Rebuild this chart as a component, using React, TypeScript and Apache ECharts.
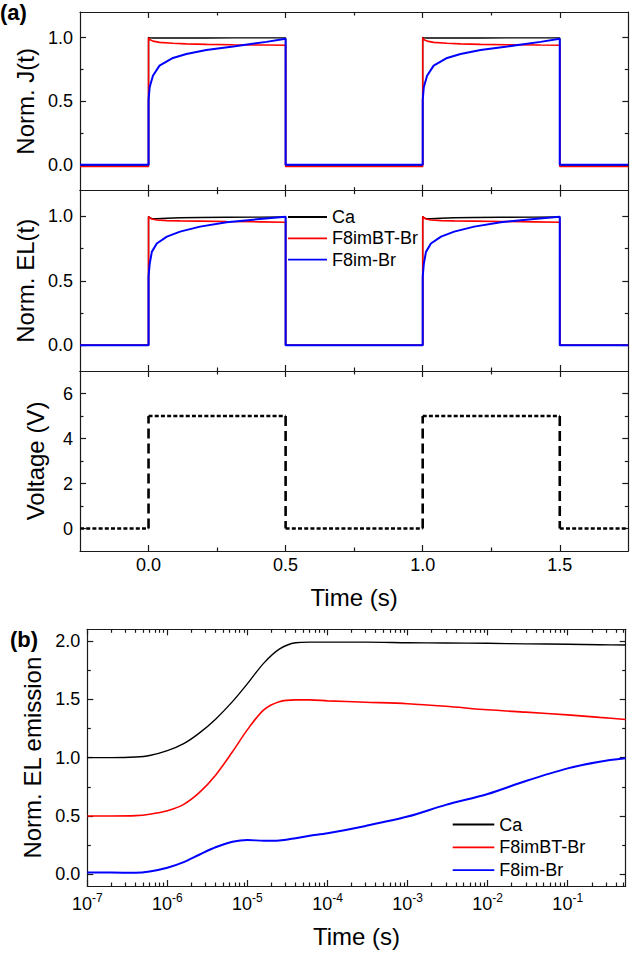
import { useEffect, useRef } from 'react';
import * as echarts from 'echarts';

const FONT = '"Liberation Sans", Arial, Helvetica, sans-serif';
const INK = '#000000';
const AXIS_INK = '#1a1a1a';

// ---------- shared series ----------
const seriesNames = ['Ca', 'F8imBT-Br', 'F8im-Br'];
const seriesColors = ['#000000', '#ff0000', '#0000ff'];
const seriesWidths = [1.4, 1.6, 2];

// ---------- panel (a) ----------
const timeRangeA = [-0.25, 1.75];
const pulseStarts = [0, 1.0];
const pulseWidth = 0.5;
const timeMajorTicksA = [0, 0.5, 1.0, 1.5];
const timeMinorTicksA = [0.25, 0.75, 1.25];
const normRange = [-0.2, 1.2];
const normMajorTicks = [0, 0.5, 1.0];
const normMinorTicks = [0.25, 0.75];
const voltRange = [-1, 7];
const voltMajorTicks = [0, 2, 4, 6];
const voltMinorTicks = [1, 3, 5];

// Norm. J(t) during a pulse (time measured from pulse start, s)
const jOnTime = [0, 0.004, 0.016, 0.04, 0.089, 0.138, 0.211, 0.309, 0.43, 0.5];
const jCa = [1.0, 0.997, 0.996, 0.996, 0.996, 0.996, 0.996, 0.997, 0.997, 0.997];
const jBT = [1.0, 0.985, 0.972, 0.962, 0.955, 0.95, 0.946, 0.943, 0.941, 0.94];
const jIm = [0.51, 0.61, 0.7, 0.78, 0.84, 0.871, 0.902, 0.93, 0.966, 0.99];
const jBaseline = [0, -0.01, 0.003];

// Norm. EL(t) during a pulse
const elOnTime = [0, 0.004, 0.012, 0.03, 0.067, 0.115, 0.188, 0.285, 0.406, 0.5];
const elCa = [1.0, 0.99, 0.983, 0.982, 0.986, 0.99, 0.992, 0.994, 0.995, 0.996];
const elBT = [1.0, 0.99, 0.98, 0.972, 0.968, 0.966, 0.964, 0.961, 0.958, 0.955];
const elIm = [0.53, 0.63, 0.725, 0.79, 0.843, 0.882, 0.921, 0.955, 0.98, 0.997];
const elBaseline = [0, 0, 0];

// Applied voltage
const voltTime = [-0.25, 0, 0, 0.5, 0.5, 1.0, 1.0, 1.5, 1.5, 1.75];
const voltValue = [0, 0, 5, 5, 0, 0, 5, 5, 0, 0];

// ---------- panel (b) ----------
const timeRangeB = [1e-7, 0.53];
const decadeTicksB = [1e-7, 1e-6, 1e-5, 1e-4, 1e-3, 1e-2, 1e-1];
const minorMultipliersB = [2, 3, 4, 5, 6, 7, 8, 9];
const emissionRange = [-0.1, 2.1];
const emissionMajorTicks = [0, 0.5, 1.0, 1.5, 2.0];
const emissionMinorTicks = [0.25, 0.75, 1.25, 1.75];

const bTime = [1e-7, 2e-7, 4e-7, 6e-7, 1e-6, 1.6e-6, 2.5e-6, 4e-6, 6.5e-6, 1e-5, 1.6e-5, 2.5e-5, 4e-5, 6e-5, 1e-4, 3e-4, 1e-3, 3e-3, 1e-2, 3e-2, 0.1, 0.25, 0.53];
const bCa = [1.0, 1.0, 1.005, 1.018, 1.06, 1.12, 1.21, 1.33, 1.48, 1.634, 1.81, 1.93, 1.985, 1.99, 1.99, 1.99, 1.985, 1.982, 1.98, 1.975, 1.972, 1.968, 1.965];
const bBT = [0.5, 0.5, 0.503, 0.515, 0.545, 0.6, 0.7, 0.85, 1.05, 1.24, 1.41, 1.48, 1.495, 1.495, 1.487, 1.475, 1.462, 1.44, 1.41, 1.39, 1.367, 1.345, 1.327];
const bIm = [0.015, 0.015, 0.014, 0.025, 0.057, 0.105, 0.168, 0.232, 0.279, 0.295, 0.287, 0.29, 0.31, 0.33, 0.352, 0.415, 0.495, 0.595, 0.688, 0.8, 0.908, 0.965, 0.994];

function pulseTrain(onT: number[], onV: number[], base: number): number[][] {
  const pts: number[][] = [[timeRangeA[0], base]];
  pulseStarts.forEach((s) => {
    pts.push([s, base]);
    onT.forEach((dt, i) => pts.push([s + dt, onV[i]]));
    pts.push([s + pulseWidth, base]);
  });
  pts.push([timeRangeA[1], base]);
  return pts;
}

function voltSegments(vertical: boolean): (number | string)[][] {
  const out: (number | string)[][] = [];
  for (let i = 0; i < voltTime.length - 1; i++) {
    const isVert = voltTime[i] === voltTime[i + 1];
    if (isVert !== vertical) continue;
    if (out.length) out.push([voltTime[i], '-']);
    out.push([voltTime[i], voltValue[i]]);
    out.push([voltTime[i + 1], voltValue[i + 1]]);
  }
  return out;
}

const axisLine = { color: AXIS_INK, width: 1.2 };
const labelStyle = { fontFamily: FONT, fontSize: 18, color: INK };
const nameStyle = { fontFamily: FONT, fontSize: 24, color: INK };

type Obj = Record<string, any>;
const xAxes: Obj[] = [];
const yAxes: Obj[] = [];

function makeAxis(gridIndex: number, position: string, type: string, range: number[], ticks: number[], len: number, showLine: boolean, extra: Obj = {}): Obj {
  return {
    type,
    gridIndex,
    position,
    min: range[0],
    max: range[1],
    axisLine: { show: showLine, onZero: false, lineStyle: axisLine },
    axisTick: { show: true, inside: true, length: len, customValues: ticks, lineStyle: axisLine },
    axisLabel: { show: false },
    splitLine: { show: false },
    minorTick: { show: false },
    ...extra,
  };
}

function frame(dim: 'x' | 'y', gridIndex: number, type: string, range: number[], major: number[], minor: number[], primaryExtra: Obj): number {
  const list = dim === 'x' ? xAxes : yAxes;
  const sides = dim === 'x' ? ['bottom', 'top'] : ['left', 'right'];
  const primary = list.length;
  sides.forEach((side, k) => {
    list.push(makeAxis(gridIndex, side, type, range, major, 6, true, k === 0 ? primaryExtra : {}));
    list.push(makeAxis(gridIndex, side, type, range, minor, 3.5, false));
  });
  return primary;
}

const oneDecimal = (v: number) => v.toFixed(1);

function buildOption(): Obj {
  xAxes.length = 0;
  yAxes.length = 0;

  const grids = [
    { left: 80, right: 1.7, top: 12, height: 178.7 },
    { left: 80, right: 1.7, top: 190.7, height: 180.3 },
    { left: 80, right: 1.7, top: 371, height: 180 },
    { left: 87.3, right: 4.3, top: 629.3, height: 256.7 },
  ];

  const yName = (name: string, gap: number) => ({
    name,
    nameLocation: 'middle',
    nameRotate: 90,
    nameGap: gap,
    nameTextStyle: nameStyle,
  });

  // panel (a) grids
  const x0 = frame('x', 0, 'value', timeRangeA, timeMajorTicksA, timeMinorTicksA, {});
  const y0 = frame('y', 0, 'value', normRange, normMajorTicks, normMinorTicks, {
    axisLabel: { show: true, customValues: normMajorTicks, margin: 7, formatter: oneDecimal, ...labelStyle },
    ...yName('Norm. J(t)', 32),
  });
  const x1 = frame('x', 1, 'value', timeRangeA, timeMajorTicksA, timeMinorTicksA, {});
  const y1 = frame('y', 1, 'value', normRange, normMajorTicks, normMinorTicks, {
    axisLabel: { show: true, customValues: normMajorTicks, margin: 7, formatter: oneDecimal, ...labelStyle },
    ...yName('Norm. EL(t)', 32),
  });
  const x2 = frame('x', 2, 'value', timeRangeA, timeMajorTicksA, timeMinorTicksA, {
    axisLabel: { show: true, customValues: timeMajorTicksA, margin: 5, formatter: oneDecimal, ...labelStyle },
    name: 'Time (s)',
    nameLocation: 'middle',
    nameGap: 34,
    nameTextStyle: nameStyle,
  });
  const y2 = frame('y', 2, 'value', voltRange, voltMajorTicks, voltMinorTicks, {
    axisLabel: { show: true, customValues: voltMajorTicks, margin: 7, formatter: (v: number) => String(v), ...labelStyle },
    ...yName('Voltage (V)', 33),
  });

  // panel (b)
  const minorB: number[] = [];
  decadeTicksB.forEach((d) => minorMultipliersB.forEach((m) => {
    const v = d * m;
    if (v < timeRangeB[1]) minorB.push(v);
  }));
  const x3 = frame('x', 3, 'log', timeRangeB, decadeTicksB, minorB, {
    logBase: 10,
    axisLabel: {
      show: true,
      customValues: decadeTicksB,
      margin: 6,
      formatter: (v: number) => `{b|10}{s|${Math.round(Math.log10(v))}}`,
      rich: {
        b: { fontFamily: FONT, fontSize: 18, color: INK, lineHeight: 24 },
        s: { fontFamily: FONT, fontSize: 12, color: INK, lineHeight: 12, verticalAlign: 'top' },
      },
    },
    name: 'Time (s)',
    nameLocation: 'middle',
    nameGap: 38,
    nameTextStyle: nameStyle,
  });
  const y3 = frame('y', 3, 'value', emissionRange, emissionMajorTicks, emissionMinorTicks, {
    axisLabel: { show: true, customValues: emissionMajorTicks, margin: 7, formatter: oneDecimal, ...labelStyle },
    ...yName('Norm. EL emission', 40),
  });

  const lineSeries = (name: string, k: number, xi: number, yi: number, data: any[], extra: Obj = {}) => ({
    type: 'line',
    name,
    xAxisIndex: xi,
    yAxisIndex: yi,
    data,
    symbol: 'none',
    clip: true,
    itemStyle: { color: seriesColors[k] },
    lineStyle: { color: seriesColors[k], width: seriesWidths[k] },
    ...extra,
  });

  const jValues = [jCa, jBT, jIm];
  const elValues = [elCa, elBT, elIm];
  const bValues = [bCa, bBT, bIm];

  const series: Obj[] = [];
  seriesNames.forEach((n, k) => series.push(lineSeries(n, k, x0, y0, pulseTrain(jOnTime, jValues[k], jBaseline[k]))));
  seriesNames.forEach((n, k) => series.push(lineSeries(n, k, x1, y1, pulseTrain(elOnTime, elValues[k], elBaseline[k]))));
  series.push({
    type: 'line', name: 'Voltage level', xAxisIndex: x2, yAxisIndex: y2, data: voltSegments(false),
    symbol: 'none', itemStyle: { color: '#000' }, lineStyle: { color: '#000', width: 2.6, type: [4, 2.2] },
  });
  series.push({
    type: 'line', name: 'Voltage edge', xAxisIndex: x2, yAxisIndex: y2, data: voltSegments(true),
    symbol: 'none', itemStyle: { color: '#000' }, lineStyle: { color: '#000', width: 2.6, type: [10, 5] },
  });
  seriesNames.forEach((n, k) => series.push(lineSeries(n, k, x3, y3, bTime.map((t, i) => [t, bValues[k][i]]), { smooth: 0.3 })));

  const legendBase = {
    orient: 'vertical',
    padding: 0,
    selectedMode: false,
    icon: 'rect',
    data: seriesNames,
    textStyle: { fontFamily: FONT, fontSize: 18, color: INK },
    itemHeight: 1.8,
  };

  return {
    animation: false,
    backgroundColor: '#ffffff',
    grid: grids,
    xAxis: xAxes,
    yAxis: yAxes,
    series,
    legend: [
      { ...legendBase, left: 288, top: 208, itemWidth: 39, itemGap: 3.3 },
      { ...legendBase, left: 452.7, top: 815.5, itemWidth: 41.6, itemGap: 4.8 },
    ],
    graphic: [
      { type: 'text', left: 0, top: 1, style: { text: '(a)', fontFamily: FONT, fontSize: 22, fontWeight: 'bold', fill: INK } },
      { type: 'text', left: 10, top: 628, style: { text: '(b)', fontFamily: FONT, fontSize: 22, fontWeight: 'bold', fill: INK } },
    ],
  };
}

export default function App() {
  const ref = useRef<HTMLDivElement>(null);
  useEffect(() => {
    document.body.style.margin = '0';
    if (!ref.current) return;
    const chart = echarts.init(ref.current, undefined, { renderer: 'svg' });
    chart.setOption(buildOption());
    return () => chart.dispose();
  }, []);
  return <div ref={ref} style={{ width: 630, height: 953 }} />;
}
